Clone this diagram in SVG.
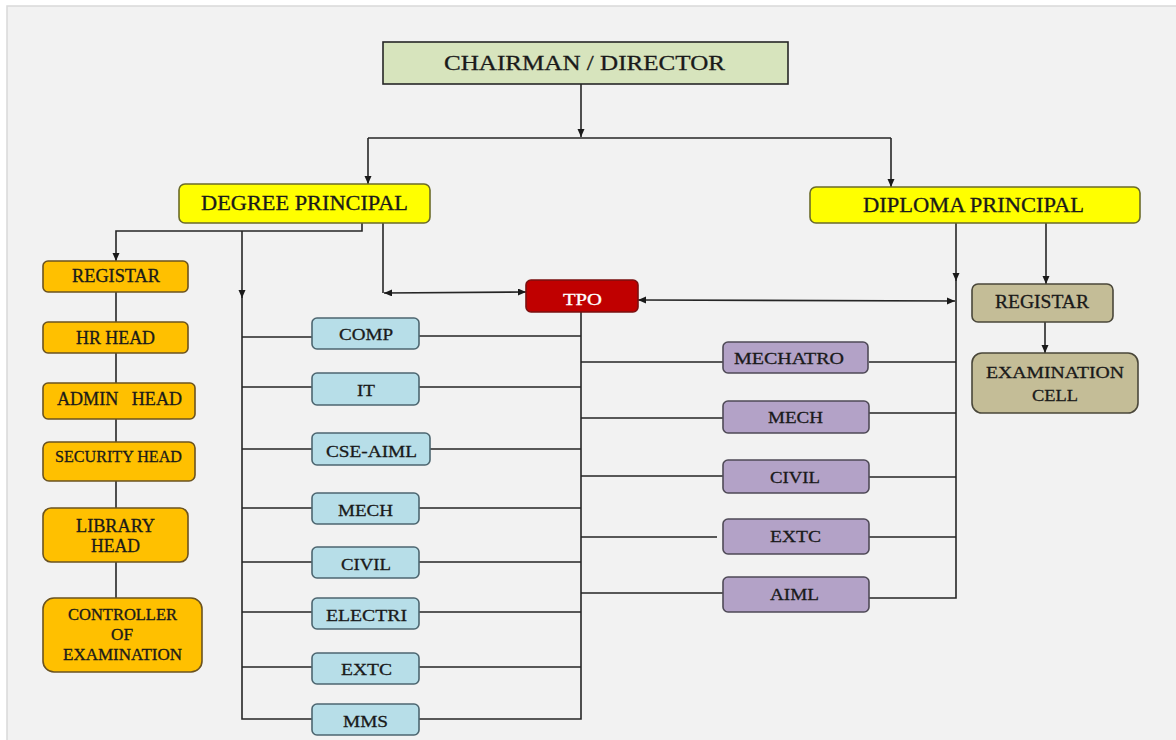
<svg xmlns="http://www.w3.org/2000/svg" width="1176" height="740" viewBox="0 0 1176 740">
<defs>
<marker id="ah" markerUnits="userSpaceOnUse" markerWidth="10" markerHeight="10" refX="8" refY="3.5" orient="auto-start-reverse">
<path d="M0,0 L8,3.5 L0,7 z" fill="#1a1a1a"/>
</marker>
</defs>
<style>
text{font-family:"Liberation Serif","Times New Roman",serif;fill:#1a1a1a;stroke:#1a1a1a;stroke-width:0.3;white-space:pre}
.c{fill:none;stroke:#262626;stroke-width:1.6}
.g{fill:#d7e4bd;stroke:#262626;stroke-width:1.6}
.y{fill:#ffff00;stroke:#6b6b2a;stroke-width:1.6}
.o{fill:#ffc000;stroke:#6b5320;stroke-width:1.6}
.b{fill:#b7dee8;stroke:#4d6670;stroke-width:1.6}
.p{fill:#b3a2c7;stroke:#4f4a57;stroke-width:1.6}
.t{fill:#c4bd97;stroke:#4a473a;stroke-width:1.6}
.r{fill:#c00000;stroke:#7a1010;stroke-width:1.6}
.f17{font-size:17px}
.f18{font-size:18px}
.f16{font-size:16px}
</style>
<rect x="0" y="0" width="1176" height="740" fill="#ffffff"/>
<rect x="7" y="6" width="1180" height="740" fill="#f2f2f2" stroke="#d9d9d9" stroke-width="1.5"/>

<g id="connectors">
<path class="c" d="M581,84 V137" marker-end="url(#ah)"/>
<path class="c" d="M368,138 H891"/>
<path class="c" d="M368,138 V184" marker-end="url(#ah)"/>
<path class="c" d="M891,138 V187" marker-end="url(#ah)"/>
<path class="c" d="M362,223 V231 H116 V261" marker-end="url(#ah)"/>
<path class="c" d="M242,231 V298" marker-end="url(#ah)"/>
<path class="c" d="M242,296 V719 H312"/>
<path class="c" d="M242,337 H312 M242,387 H312 M242,449 H312 M242,508 H312 M242,562 H312 M242,612 H312 M242,667 H312"/>
<path class="c" d="M383,223 V293"/>
<path class="c" d="M384,293 L526,292" marker-start="url(#ah)" marker-end="url(#ah)"/>
<path class="c" d="M581,312 V719 H419"/>
<path class="c" d="M419,336 H581 M419,387 H581 M430,449 H581 M419,508 H581 M419,562 H581 M419,612 H581 M419,667 H581"/>
<path class="c" d="M581,362 H723 M581,418 H723 M581,476 H723 M581,537 H717 M581,593 H723"/>
<path class="c" d="M638,300 L955,301" marker-start="url(#ah)" marker-end="url(#ah)"/>
<path class="c" d="M956,223 V281" marker-end="url(#ah)"/>
<path class="c" d="M956,279 V598 H869"/>
<path class="c" d="M869,362 H956 M869,413 H956 M869,477 H956 M869,537 H956"/>
<path class="c" d="M1046,223 V284" marker-end="url(#ah)"/>
<path class="c" d="M1045,322 V353" marker-end="url(#ah)"/>
<path class="c" d="M116,292 V322 M116,353 V383 M116,419 V442 M116,481 V508 M116,562 V598"/>
</g>

<g id="chairman">
<rect class="g" x="383" y="42" width="405" height="42"/>
<text x="444" y="70" font-size="22" textLength="281" lengthAdjust="spacingAndGlyphs">CHAIRMAN / DIRECTOR</text>
</g>
<g id="degree-principal">
<rect class="y" x="179" y="184" width="251" height="39" rx="6"/>
<text x="201" y="210" font-size="20" textLength="207" lengthAdjust="spacingAndGlyphs">DEGREE PRINCIPAL</text>
</g>
<g id="diploma-principal">
<rect class="y" x="810" y="187" width="330" height="36" rx="6"/>
<text x="863" y="212" font-size="20" textLength="221" lengthAdjust="spacingAndGlyphs">DIPLOMA PRINCIPAL</text>
</g>
<g id="tpo">
<rect class="r" x="526" y="280" width="112" height="32" rx="5"/>
<text x="563" y="305" class="f17" style="fill:#ffffff;stroke:#ffffff" textLength="39" lengthAdjust="spacingAndGlyphs">TPO</text>
</g>

<g id="registar-degree">
<rect class="o" x="43" y="261" width="145" height="31" rx="5"/>
<text x="72" y="282" class="f18" textLength="88" lengthAdjust="spacingAndGlyphs">REGISTAR</text>
</g>
<g id="hr-head">
<rect class="o" x="43" y="322" width="145" height="31" rx="5"/>
<text x="76" y="344" class="f18" textLength="79" lengthAdjust="spacingAndGlyphs">HR HEAD</text>
</g>
<g id="admin-head">
<rect class="o" x="43" y="383" width="152" height="36" rx="5"/>
<text x="57" y="405" class="f18" textLength="125" lengthAdjust="spacingAndGlyphs">ADMIN   HEAD</text>
</g>
<g id="security-head">
<rect class="o" x="43" y="442" width="152" height="39" rx="6"/>
<text x="55" y="462" class="f17" textLength="127" lengthAdjust="spacingAndGlyphs">SECURITY HEAD</text>
</g>
<g id="library-head">
<rect class="o" x="43" y="508" width="145" height="54" rx="8"/>
<text x="76" y="532" class="f18" textLength="79" lengthAdjust="spacingAndGlyphs">LIBRARY</text>
<text x="91" y="552" class="f18" textLength="49" lengthAdjust="spacingAndGlyphs">HEAD</text>
</g>
<g id="controller">
<rect class="o" x="43" y="598" width="159" height="74" rx="11"/>
<text x="68" y="620" class="f16" textLength="109" lengthAdjust="spacingAndGlyphs">CONTROLLER</text>
<text x="111" y="640" class="f16" textLength="22" lengthAdjust="spacingAndGlyphs">OF</text>
<text x="63" y="660" class="f16" textLength="119" lengthAdjust="spacingAndGlyphs">EXAMINATION</text>
</g>

<g id="deg-comp">
<rect class="b" x="312" y="318" width="107" height="31" rx="5"/>
<text x="339" y="340" class="f17" textLength="54" lengthAdjust="spacingAndGlyphs">COMP</text>
</g>
<g id="deg-it">
<rect class="b" x="312" y="373" width="107" height="32" rx="5"/>
<text x="357" y="396" class="f17" textLength="18" lengthAdjust="spacingAndGlyphs">IT</text>
</g>
<g id="deg-cse-aiml">
<rect class="b" x="312" y="433" width="118" height="32" rx="5"/>
<text x="326" y="457" class="f17" textLength="91" lengthAdjust="spacingAndGlyphs">CSE-AIML</text>
</g>
<g id="deg-mech">
<rect class="b" x="312" y="493" width="107" height="31" rx="5"/>
<text x="338" y="516" class="f17" textLength="55" lengthAdjust="spacingAndGlyphs">MECH</text>
</g>
<g id="deg-civil">
<rect class="b" x="312" y="547" width="107" height="31" rx="5"/>
<text x="341" y="570" class="f17" textLength="50" lengthAdjust="spacingAndGlyphs">CIVIL</text>
</g>
<g id="deg-electri">
<rect class="b" x="312" y="598" width="107" height="31" rx="5"/>
<text x="326" y="621" class="f17" textLength="81" lengthAdjust="spacingAndGlyphs">ELECTRI</text>
</g>
<g id="deg-extc">
<rect class="b" x="312" y="653" width="107" height="31" rx="5"/>
<text x="341" y="675" class="f17" textLength="51" lengthAdjust="spacingAndGlyphs">EXTC</text>
</g>
<g id="deg-mms">
<rect class="b" x="312" y="704" width="107" height="31" rx="5"/>
<text x="343" y="727" class="f17" textLength="45" lengthAdjust="spacingAndGlyphs">MMS</text>
</g>

<g id="dip-mechatro">
<rect class="p" x="723" y="342" width="145" height="31" rx="5"/>
<text x="734" y="364" class="f17" textLength="110" lengthAdjust="spacingAndGlyphs">MECHATRO</text>
</g>
<g id="dip-mech">
<rect class="p" x="723" y="401" width="146" height="32" rx="5"/>
<text x="768" y="423" class="f17" textLength="55" lengthAdjust="spacingAndGlyphs">MECH</text>
</g>
<g id="dip-civil">
<rect class="p" x="723" y="460" width="146" height="33" rx="5"/>
<text x="770" y="483" class="f17" textLength="50" lengthAdjust="spacingAndGlyphs">CIVIL</text>
</g>
<g id="dip-extc">
<rect class="p" x="723" y="519" width="146" height="35" rx="5"/>
<text x="770" y="542" class="f17" textLength="51" lengthAdjust="spacingAndGlyphs">EXTC</text>
</g>
<g id="dip-aiml">
<rect class="p" x="723" y="577" width="146" height="35" rx="5"/>
<text x="770" y="600" class="f17" textLength="49" lengthAdjust="spacingAndGlyphs">AIML</text>
</g>

<g id="registar-diploma">
<rect class="t" x="972" y="284" width="141" height="38" rx="6"/>
<text x="995" y="308" class="f18" textLength="94" lengthAdjust="spacingAndGlyphs">REGISTAR</text>
</g>
<g id="examination-cell">
<rect class="t" x="972" y="353" width="166" height="60" rx="10"/>
<text x="986" y="378" class="f17" textLength="138" lengthAdjust="spacingAndGlyphs">EXAMINATION</text>
<text x="1032" y="401" class="f17" textLength="46" lengthAdjust="spacingAndGlyphs">CELL</text>
</g>
</svg>
